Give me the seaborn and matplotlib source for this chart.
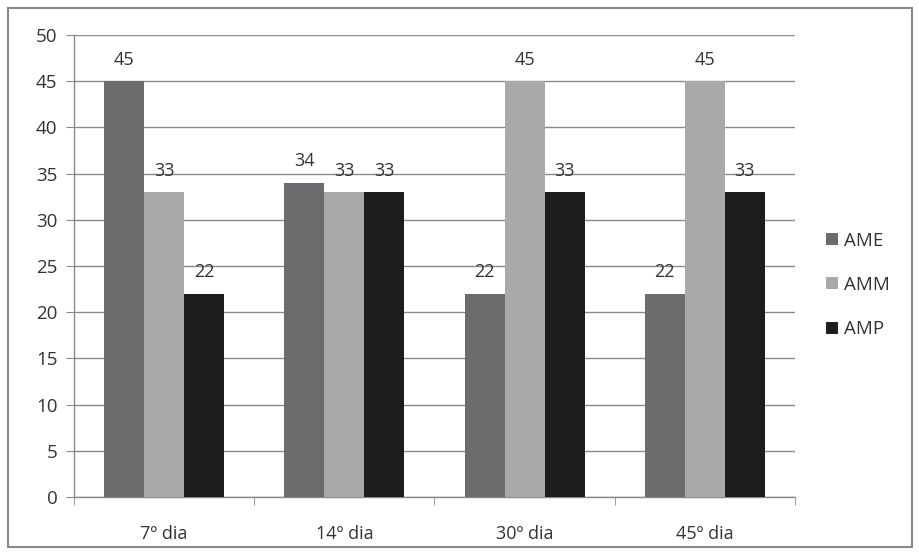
import matplotlib
matplotlib.use("Agg")
import matplotlib.pyplot as plt
import seaborn as sns
import pandas as pd
from matplotlib.patches import Rectangle
from matplotlib.ticker import FixedLocator

categories = ["7º dia", "14º dia", "30º dia", "45º dia"]
series = ["AME", "AMM", "AMP"]
ame = [45, 34, 22, 22]
amm = [33, 33, 45, 45]
amp = [22, 33, 33, 33]
colors = ["#6b6b6d", "#a9a9ab", "#1e1c1d"]

rows = []
for name, vals in zip(series, [ame, amm, amp]):
    for c, v in zip(categories, vals):
        rows.append({"dia": c, "serie": name, "valor": v})
df = pd.DataFrame(rows)

sns.set_style("white")
plt.rcParams["font.family"] = ["Open Sans", "DejaVu Sans"]

fig = plt.figure(figsize=(9.2, 5.55), dpi=100)
ax = fig.add_axes([74/920, 1-497/555, (795-74)/920, (497-35)/555])

sns.barplot(data=df, x="dia", y="valor", hue="serie", palette=colors,
            width=0.667, gap=0, saturation=1, ax=ax, linewidth=0, zorder=3)

for cont in ax.containers:
    ax.bar_label(cont, padding=9, fontsize=13, color="#333333")

ax.set_ylim(0, 50)
ax.set_yticks(range(0, 51, 5))
ax.set_xlim(-0.5, 3.5)
ax.set_xlabel("")
ax.set_ylabel("")
ax.grid(axis="y", color="#8a8a8a", linewidth=1, zorder=0)
ax.set_axisbelow(True)
for s in ["top", "right"]:
    ax.spines[s].set_visible(False)
for s in ["left", "bottom"]:
    ax.spines[s].set_color("#8a8a8a")
    ax.spines[s].set_linewidth(1)
ax.tick_params(axis="y", which="major", length=6, color="#8a8a8a",
               labelsize=13.5, labelcolor="#333333", pad=6, left=True)
ax.tick_params(axis="x", which="major", length=0, labelsize=13,
               labelcolor="#333333", pad=20)
ax.xaxis.set_minor_locator(FixedLocator([-0.5, 0.5, 1.5, 2.5, 3.5]))
ax.tick_params(axis="x", which="minor", length=6, color="#8a8a8a", bottom=True)

leg = ax.legend(loc="center left", bbox_to_anchor=(1.02, 0.459), frameon=False,
                fontsize=13.5, handlelength=0.6, handleheight=0.6,
                handletextpad=0.35, labelspacing=1.4, labelcolor="#333333")

fig.patches.append(Rectangle((8/920, 8/555), 904/920, 539/555,
                             transform=fig.transFigure, fill=False,
                             edgecolor="#8a8a8a", linewidth=1.5))

fig.savefig("out.png", dpi=100)
